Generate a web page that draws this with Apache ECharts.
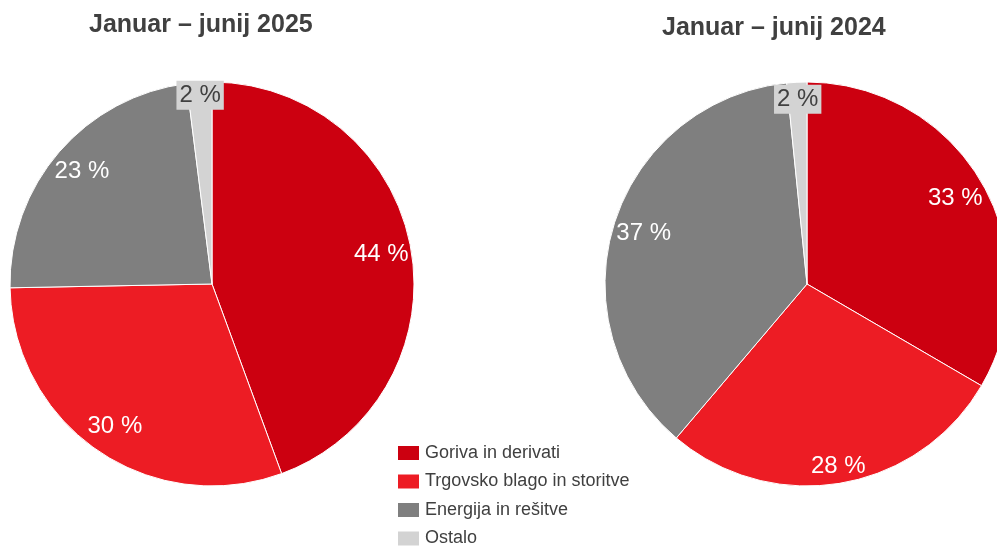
<!DOCTYPE html>
<html>
<head>
<meta charset="utf-8">
<script src="https://cdn.jsdelivr.net/npm/echarts@6/dist/echarts.min.js"></script>
<style>
  html, body { margin: 0; padding: 0; background: #fff; }
  #chart { width: 997px; height: 548px; }
</style>
</head>
<body>
<div id="chart"></div>
<script>
    // kategorije in deleži (%)
    var categories = ['Goriva in derivati', 'Trgovsko blago in storitve', 'Energija in rešitve', 'Ostalo']
    var values2025 = [44.4, 30.3, 23.3, 2.0]
    var values2024 = [33.4, 27.8, 37.2, 1.6]
    var titles = ['Januar – junij 2025', 'Januar – junij 2024']

    var colors = ['#CC0010', '#ED1C24', '#7F7F7F', '#D3D3D3']
    var R = 202
    var font = 'Liberation Sans, Arial, sans-serif'
    // oznake, ki so bolj na robu
    var farLabels2025 = [3]
    var farLabels2024 = [1, 3]

    function toData(vals) {
        return vals.map(function (v, i) {
            return { name: categories[i], value: v }
        })
    }

    function mainPie(center, vals) {
        return {
            type: 'pie',
            center: center,
            radius: [0, R],
            startAngle: 90,
            clockwise: true,
            silent: true,
            animation: false,
            label: { show: false },
            labelLine: { show: false },
            itemStyle: { borderColor: '#fff', borderWidth: 1 },
            data: toData(vals)
        }
    }

    // prozorna plast samo za oznake (da so bližje robu)
    function labelPie(center, vals, labelR, which, include) {
        var data = toData(vals).map(function (d, i) {
            var on = include ? which.indexOf(i) >= 0 : which.indexOf(i) < 0
            var small = i == 3
            d.label = {
                show: on,
                color: small ? '#404040' : '#fff',
                backgroundColor: small ? colors[3] : 'transparent',
                padding: small ? [3, 3, 2, 3] : 0
            }
            return d
        })
        return {
            type: 'pie',
            center: center,
            radius: [2 * labelR - R, R],
            startAngle: 90,
            clockwise: true,
            silent: true,
            animation: false,
            itemStyle: { color: 'transparent' },
            label: {
                position: 'inside',
                fontSize: 24,
                fontFamily: font,
                formatter: function (p) { return Math.round(p.value) + ' %' }
            },
            labelLine: { show: false },
            emphasis: { disabled: true },
            data: data
        }
    }

    var c1 = [212, 284]
    var c2 = [807, 284]

    var option = {
        color: colors,
        animation: false,
        title: [
            { text: titles[0], left: 84, top: 8,
              textStyle: { fontSize: 25, fontWeight: 'bold', color: '#404040', fontFamily: font } },
            { text: titles[1], left: 657, top: 11,
              textStyle: { fontSize: 25, fontWeight: 'bold', color: '#404040', fontFamily: font } }
        ],
        legend: {
            data: categories,
            orient: 'vertical',
            left: 396,
            top: 444,
            height: 140,
            padding: 0,
            itemWidth: 23,
            itemHeight: 16,
            itemGap: 10.5,
            icon: 'rect',
            selectedMode: false,
            textStyle: { fontSize: 18, color: '#404040', lineHeight: 16, fontFamily: font }
        },
        series: [
            mainPie(c1, values2025),
            mainPie(c2, values2024),
            labelPie(c1, values2025, 169, farLabels2025, false),
            labelPie(c1, values2025, 186, farLabels2025, true),
            labelPie(c2, values2024, 168, farLabels2024, false),
            labelPie(c2, values2024, 182, farLabels2024, true)
        ]
    }

    var chart = echarts.init(document.getElementById('chart'))
    chart.setOption(option)
</script>
</body>
</html>
